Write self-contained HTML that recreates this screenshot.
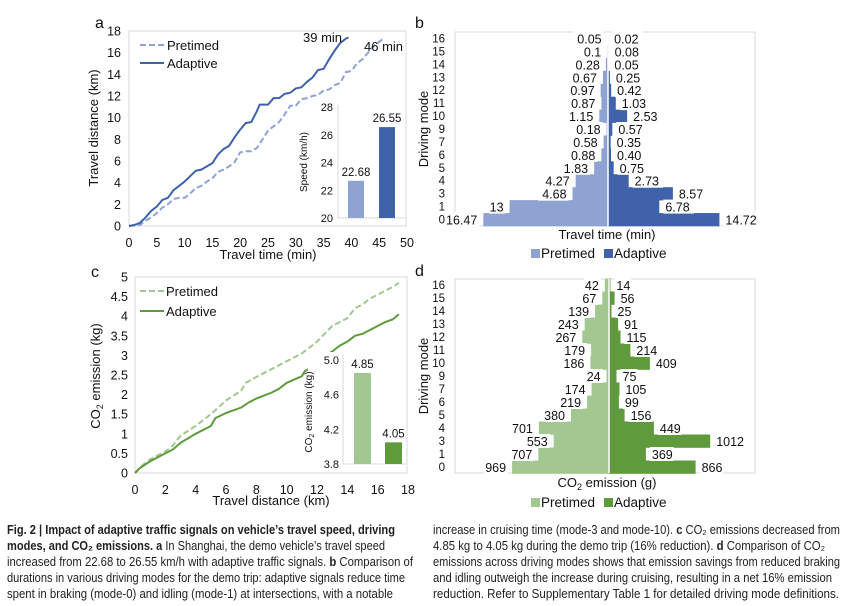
<!DOCTYPE html>
<html><head><meta charset="utf-8"><style>
body{margin:0;background:#fff;width:847px;height:606px;overflow:hidden}
svg{display:block;font-family:"Liberation Sans",Arial,sans-serif}
</style></head><body>
<svg id="fig" width="847" height="606" viewBox="0 0 847 606"></svg>
<script>
// ---- data ----
const aAdaptT=[0,1,2,3,4,5,6,7,8,9,10,11,12,13,14,15,16,17,18,19,20,21,22,23,23.5,25,26,27,28,29,30,31,32,33,34,35,36,37,38,39,39.5];
const aAdaptD=[0,0.1,0.3,0.8,1.4,1.8,2.4,2.6,3.3,3.7,4.1,4.6,5.1,5.2,5.5,5.8,6.6,7.1,7.4,8.2,8.9,9.5,9.6,10.6,11.2,11.2,11.8,11.8,12.2,12.3,12.7,12.8,13.3,13.7,14.4,14.5,15.4,16.2,16.9,17.3,17.4];
const aPreT=[0,2,3,4,5,6,7,8,9,10,11,12,13,14,15,16,17,18,19,20,21,22,23,24,25,26,27,28,29,30,31,32,33,34,35,36,37,38,39,40,41,42,43,44,45,46];
const aPreD=[0,0.1,0.5,0.8,1.2,1.7,2.0,2.5,2.6,2.6,3.0,3.5,3.7,4.1,4.4,5.0,5.2,5.5,5.9,6.8,6.9,6.9,7.2,8.0,8.8,9.2,9.6,10.3,11.1,11.1,11.7,11.8,12.0,12.1,12.5,12.6,13.0,13.2,14.2,14.3,15.0,15.4,16.0,16.6,17.0,17.4];
const speedVals=[22.68,26.55];
const modes=["16","15","14","13","12","11","10","9","7","6","5","4","3","1","0"];
const timePre=[0.05,0.1,0.28,0.67,0.97,0.87,1.15,0.18,0.58,0.88,1.83,4.27,4.68,13,16.47];
const timeAda=[0.02,0.08,0.05,0.25,0.42,1.03,2.53,0.57,0.35,0.40,0.75,2.73,8.57,6.78,14.72];
const timeAdaLbl=["0.02","0.08","0.05","0.25","0.42","1.03","2.53","0.57","0.35","0.40","0.75","2.73","8.57","6.78","14.72"];
const cAdaX=[0,0.3,1,2,2.5,3,4,5,5.3,6,7,7.5,8,9,9.5,10,11,11.2,11.7,12,12.5,13,13.5,14,14.5,15,15.5,16,16.5,17,17.4];
const cAdaY=[0,0.12,0.3,0.5,0.6,0.77,1.0,1.2,1.4,1.53,1.67,1.8,1.9,2.05,2.15,2.3,2.47,2.6,2.7,2.85,3.0,3.1,3.25,3.35,3.5,3.55,3.65,3.75,3.85,3.92,4.05];
const cPreX=[0,0.5,1,2,2.5,3,4,5,6,7,7.3,8,9,10,11,12,12.5,13,14,14.5,15,15.5,16,17,17.4];
const cPreY=[0,0.2,0.35,0.55,0.7,0.95,1.2,1.5,1.85,2.1,2.3,2.45,2.65,2.85,3.05,3.35,3.55,3.75,3.95,4.2,4.3,4.45,4.55,4.75,4.85];
const co2Vals=[4.85,4.05];
const emPre=[42,67,139,243,267,179,186,24,174,219,380,701,553,707,969];
const emAda=[14,56,25,91,115,214,409,75,105,99,156,449,1012,369,866];

const C={lb:"#8FA3D3",db:"#3F62AB",lg:"#A3C790",dg:"#5F9A3D",grid:"#D9D9D9",txt:"#111"};
const S=document.getElementById('fig');
const NS="http://www.w3.org/2000/svg";
function el(tag,attrs,txt){const e=document.createElementNS(NS,tag);for(const k in attrs)e.setAttribute(k,attrs[k]);if(txt!==undefined)e.textContent=txt;S.appendChild(e);return e;}
function lin(d0,d1,r0,r1){return v=>r0+(v-d0)/(d1-d0)*(r1-r0);}

// ===== Panel a =====
{
const x=lin(0,50,129,407), y=lin(0,18,226,31);
let e=el('rect',{x:129,y:31,width:277,height:195,fill:'none',stroke:C.grid});

for(let t=0;t<=50;t+=5){e=el('text',{x:x(t),y:247,'font-size':12.5,'text-anchor':'middle',fill:C.txt},t);
}
for(let t=0;t<=18;t+=2){e=el('text',{x:121,y:y(t)+4.5,'font-size':12.5,'text-anchor':'end',fill:C.txt},t);
}
e=el('text',{x:268,y:259,'font-size':13,'text-anchor':'middle',fill:C.txt},'Travel time (min)');

e=el('text',{x:0,y:0,'font-size':13,'text-anchor':'middle',fill:C.txt,transform:'translate(98,128) rotate(-90)'},'Travel distance (km)');

e=el('path',{d:aPreT.map((t,i)=>(i?'L':'M')+x(t)+','+y(aPreD[i])).join(''),fill:'none',stroke:C.lb,'stroke-width':2,'stroke-dasharray':'6,3'});

e=el('path',{d:aAdaptT.map((t,i)=>(i?'L':'M')+x(t)+','+y(aAdaptD[i])).join(''),fill:'none',stroke:C.db,'stroke-width':2});

e=el('text',{x:303,y:42,'font-size':13,fill:C.txt},'39 min');

e=el('text',{x:364,y:51,'font-size':13,fill:C.txt},'46 min');

el('line',{x1:140,y1:45,x2:164,y2:45,stroke:C.lb,'stroke-width':2,'stroke-dasharray':'6,3'});
e=el('text',{x:167,y:50,'font-size':13,fill:C.txt},'Pretimed');

el('line',{x1:140,y1:63,x2:164,y2:63,stroke:C.db,'stroke-width':2});
e=el('text',{x:167,y:68,'font-size':13,fill:C.txt},'Adaptive');

e=el('text',{x:95,y:28,'font-size':16,fill:C.txt},'a');

// inset
const iy=lin(20,28,218,107);
el('rect',{x:310,y:100,width:95,height:124,fill:'#fff'});
el('line',{x1:338,y1:105,x2:338,y2:218,stroke:C.grid});
el('line',{x1:338,y1:218,x2:405,y2:218,stroke:C.grid});
for(let t=20;t<=28;t+=2){e=el('text',{x:333,y:iy(t)+4,'font-size':11,'text-anchor':'end',fill:C.txt},t);
}
e=el('text',{x:0,y:0,'font-size':10,'text-anchor':'middle',fill:C.txt,transform:'translate(307,162) rotate(-90)'},'Speed (km/h)');

const bx=[348,379],bc=[C.lb,C.db],bn=['speed-bar-pretimed','speed-bar-adaptive'];
speedVals.forEach((v,i)=>{e=el('rect',{x:bx[i],y:iy(v),width:16,height:218-iy(v),fill:bc[i]});

e=el('text',{x:bx[i]+8,y:iy(v)-5,'font-size':11.5,'text-anchor':'middle',fill:C.txt},v.toFixed(2));
});
}

// ===== pyramid helper =====
function pyramid(opt){
const {x0,top,step,scale,pre,ada,adaLbl,cPre,cAda,letter,ly,title,titleY,legY,frame}=opt;
let e=el('rect',{x:frame[0],y:frame[1],width:frame[2]-frame[0],height:frame[3]-frame[1],fill:'none',stroke:C.grid});

const ry=i=>top+i*step;
modes.forEach((m,i)=>{
 e=el('rect',{x:x0-pre[i]*scale,y:ry(i)-step/2,width:pre[i]*scale,height:step+0.3,fill:cPre});
 
 e=el('rect',{x:x0,y:ry(i)-step/2,width:ada[i]*scale,height:step+0.3,fill:cAda});
 
});
el('line',{x1:x0,y1:frame[1],x2:x0,y2:frame[3],stroke:'#fff','stroke-width':1.5});
modes.forEach((m,i)=>{
 const lp=String(pre[i]), la=adaLbl[i];
 const wp=lp.length*6.9, wa=la.length*6.9;
 const xe=x0-pre[i]*scale-6;
 el('rect',{x:xe-wp-1,y:ry(i)-7,width:wp+3,height:14,fill:'#fff'});
 e=el('text',{x:xe,y:ry(i)+5,'font-size':12.5,'text-anchor':'end',fill:C.txt},lp);
 
 const xs=x0+ada[i]*scale+6;
 el('rect',{x:xs-2,y:ry(i)-7,width:wa+3,height:14,fill:'#fff'});
 e=el('text',{x:xs,y:ry(i)+5,'font-size':12.5,fill:C.txt},la);
 
});
modes.forEach((m,i)=>{
 e=el('text',{x:frame[0]-10,y:ry(i)+4,'font-size':11.5,'text-anchor':'end',fill:C.txt},m);
 
});
e=el('text',{x:0,y:0,'font-size':13,'text-anchor':'middle',fill:C.txt,transform:`translate(${ly},${(frame[1]+frame[3])/2}) rotate(-90)`},'Driving mode');

e=el('text',{x:607,y:titleY,'font-size':13,'text-anchor':'middle',fill:C.txt});
e.innerHTML=title;

el('rect',{x:531,y:legY-9,width:9,height:9,fill:cPre});
e=el('text',{x:541,y:legY,'font-size':13.5,fill:C.txt},'Pretimed');

el('rect',{x:604,y:legY-9,width:9,height:9,fill:cAda});
e=el('text',{x:614,y:legY,'font-size':13.5,fill:C.txt},'Adaptive');

}
pyramid({x0:608,top:38.5,step:12.93,scale:7.57,pre:timePre,ada:timeAda,adaLbl:timeAdaLbl,cPre:C.lb,cAda:C.db,letter:'b',ly:428,title:'Travel time (min)',titleY:239,legY:258,frame:[455,32,755,226]});
let e=el('text',{x:415,y:28,'font-size':16,fill:C.txt},'b');

pyramid({x0:609,top:285,step:13,scale:0.1,pre:emPre,ada:emAda,adaLbl:emAda.map(String),cPre:C.lg,cAda:C.dg,letter:'d',ly:428,title:'CO<tspan font-size="9" dy="3">2</tspan><tspan dy="-3"> emission (g)</tspan>',titleY:487,legY:507,frame:[455,279,755,473]});
e=el('text',{x:415,y:276,'font-size':16,fill:C.txt},'d');


// ===== Panel c =====
{
const x=lin(0,18,135,408), y=lin(0,5,473,277);
let e=el('rect',{x:135,y:277,width:272,height:196,fill:'none',stroke:C.grid});

for(let t=0;t<=18;t+=2){e=el('text',{x:x(t),y:494,'font-size':12.5,'text-anchor':'middle',fill:C.txt},t);
}
for(let t=0;t<=5;t+=0.5){e=el('text',{x:128,y:y(t)+4.5,'font-size':12.5,'text-anchor':'end',fill:C.txt},String(t));
}
e=el('text',{x:271,y:505,'font-size':13,'text-anchor':'middle',fill:C.txt},'Travel distance (km)');

e=el('text',{x:0,y:0,'font-size':13,'text-anchor':'middle',fill:C.txt,transform:'translate(100,376) rotate(-90)'});
e.innerHTML='CO<tspan font-size="9" dy="3">2</tspan><tspan dy="-3"> emission (kg)</tspan>';

e=el('path',{d:cPreX.map((t,i)=>(i?'L':'M')+x(t)+','+y(cPreY[i])).join(''),fill:'none',stroke:C.lg,'stroke-width':2,'stroke-dasharray':'6,3'});

e=el('path',{d:cAdaX.map((t,i)=>(i?'L':'M')+x(t)+','+y(cAdaY[i])).join(''),fill:'none',stroke:C.dg,'stroke-width':2});

el('line',{x1:140,y1:291,x2:164,y2:291,stroke:C.lg,'stroke-width':2,'stroke-dasharray':'6,3'});
e=el('text',{x:166,y:296,'font-size':13,fill:C.txt},'Pretimed');

el('line',{x1:140,y1:311,x2:164,y2:311,stroke:C.dg,'stroke-width':2});
e=el('text',{x:166,y:316,'font-size':13,fill:C.txt},'Adaptive');

e=el('text',{x:91,y:277,'font-size':16,fill:C.txt},'c');

const iy=lin(3.8,5.0,464,360);
el('rect',{x:308,y:352,width:98,height:118,fill:'#fff'});
el('line',{x1:343,y1:355,x2:343,y2:464,stroke:C.grid});
el('line',{x1:343,y1:464,x2:406,y2:464,stroke:C.grid});
[3.8,4.2,4.6,5.0].forEach(t=>{e=el('text',{x:339,y:iy(t)+4,'font-size':11,'text-anchor':'end',fill:C.txt},t.toFixed(1));
});
e=el('text',{x:0,y:0,'font-size':10,'text-anchor':'middle',fill:C.txt,transform:'translate(312,412) rotate(-90)'});
e.innerHTML='CO<tspan font-size="7" dy="2">2</tspan><tspan dy="-2"> emission (kg)</tspan>';

const bx=[354,385],bc=[C.lg,C.dg],bn=['co2-bar-pretimed','co2-bar-adaptive'];
co2Vals.forEach((v,i)=>{e=el('rect',{x:bx[i],y:iy(v),width:17,height:464-iy(v),fill:bc[i]});

e=el('text',{x:bx[i]+8.5,y:iy(v)-5,'font-size':11.5,'text-anchor':'middle',fill:C.txt},v.toFixed(2));
});
}

// ===== caption =====
const capL=[
 ['<tspan font-weight="bold">Fig. 2 | Impact of adaptive traffic signals on vehicle’s travel speed, driving</tspan>',395],
 ['<tspan font-weight="bold">modes, and CO₂ emissions. a</tspan> In Shanghai, the demo vehicle’s travel speed',385],
 ['increased from 22.68 to 26.55 km/h with adaptive traffic signals. <tspan font-weight="bold">b</tspan> Comparison of',413],
 ['durations in various driving modes for the demo trip: adaptive signals reduce time',405],
 ['spent in braking (mode-0) and idling (mode-1) at intersections, with a notable',393]];
const capR=[
 ['increase in cruising time (mode-3 and mode-10). <tspan font-weight="bold">c</tspan> CO₂ emissions decreased from',840],
 ['4.85 kg to 4.05 kg during the demo trip (16% reduction). <tspan font-weight="bold">d</tspan> Comparison of CO₂',825],
 ['emissions across driving modes shows that emission savings from reduced braking',840],
 ['and idling outweigh the increase during cruising, resulting in a net 16% emission',832],
 ['reduction. Refer to Supplementary Table 1 for detailed driving mode definitions.',839]];
capL.forEach((l,i)=>{const t=el('text',{x:7,y:534+i*16,'font-size':12.5,fill:'#222',textLength:l[1]-7,lengthAdjust:'spacingAndGlyphs'});t.innerHTML=l[0];
});
capR.forEach((l,i)=>{const t=el('text',{x:433,y:534+i*16,'font-size':12.5,fill:'#222',textLength:l[1]-433,lengthAdjust:'spacingAndGlyphs'});t.innerHTML=l[0];
});
</script>
</body></html>
